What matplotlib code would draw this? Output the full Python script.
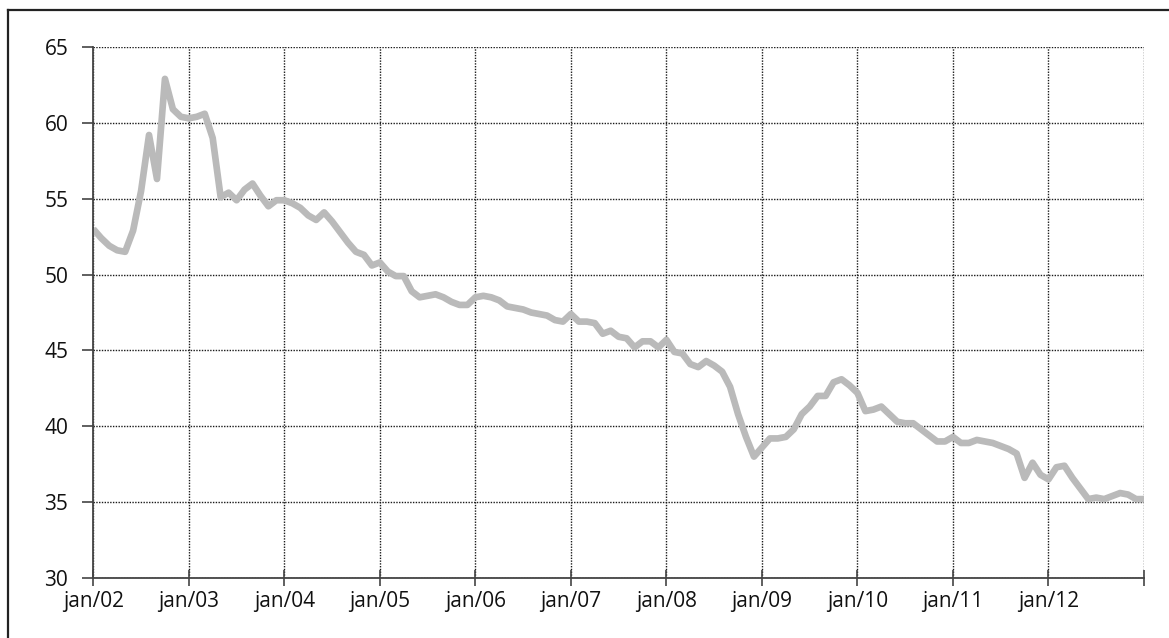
import matplotlib
matplotlib.use("Agg")
import matplotlib.pyplot as plt
from matplotlib.lines import Line2D

# Monthly values, jan/02 .. jan/13
values = [
    53.0, 52.4, 51.9, 51.6, 51.5, 52.9, 55.5, 59.2, 56.3, 62.9, 60.9, 60.4,   # 2002
    60.3, 60.4, 60.6, 59.0, 55.1, 55.4, 54.9, 55.6, 56.0, 55.2, 54.5, 54.9,   # 2003
    54.9, 54.7, 54.4, 53.9, 53.6, 54.1, 53.5, 52.8, 52.1, 51.5, 51.3, 50.6,   # 2004
    50.8, 50.2, 49.9, 49.9, 48.9, 48.5, 48.6, 48.7, 48.5, 48.2, 48.0, 48.0,   # 2005
    48.5, 48.6, 48.5, 48.3, 47.9, 47.8, 47.7, 47.5, 47.4, 47.3, 47.0, 46.9,   # 2006
    47.4, 46.9, 46.9, 46.8, 46.1, 46.3, 45.9, 45.8, 45.2, 45.6, 45.6, 45.2,   # 2007
    45.7, 44.9, 44.8, 44.1, 43.9, 44.3, 44.0, 43.6, 42.6, 40.8, 39.3, 38.0,   # 2008
    38.6, 39.2, 39.2, 39.3, 39.8, 40.8, 41.3, 42.0, 42.0, 42.9, 43.1, 42.7,   # 2009
    42.2, 41.0, 41.1, 41.3, 40.8, 40.3, 40.2, 40.2, 39.8, 39.4, 39.0, 39.0,   # 2010
    39.3, 38.9, 38.9, 39.1, 39.0, 38.9, 38.7, 38.5, 38.2, 36.6, 37.6, 36.8,   # 2011
    36.5, 37.3, 37.4, 36.6, 35.9, 35.2, 35.3, 35.2, 35.4, 35.6, 35.5, 35.2,   # 2012
    35.2,                                                                     # jan/13
]
months = list(range(len(values)))

tick_positions = [0, 12, 24, 36, 48, 60, 72, 84, 96, 108, 120, 132]
tick_labels = ["jan/02", "jan/03", "jan/04", "jan/05", "jan/06", "jan/07",
               "jan/08", "jan/09", "jan/10", "jan/11", "jan/12", ""]
y_ticks = [30, 35, 40, 45, 50, 55, 60, 65]

plt.rcParams["font.family"] = ["Open Sans", "DejaVu Sans"]

W, H = 1169, 638
fig = plt.figure(figsize=(W / 100, H / 100), dpi=100)
fig.patch.set_facecolor("white")

# outer frame (left and top edges visible)
fig.add_artist(Line2D([8 / W, 8 / W], [0, 1 - 10 / H], transform=fig.transFigure,
                      color="#222222", lw=1.6))
fig.add_artist(Line2D([8 / W, 1], [1 - 10 / H, 1 - 10 / H], transform=fig.transFigure,
                      color="#222222", lw=1.6))

ax = fig.add_axes([93.3 / W, 1 - 578 / H, (1144 - 93.3) / W, (578 - 47) / H])

ax.plot(months, values, color="#bababa", lw=4.8, solid_joinstyle="round",
        solid_capstyle="butt", zorder=3)

ax.set_xlim(0, 132)
ax.set_ylim(30, 65)
ax.set_xticks(tick_positions)
ax.set_xticklabels(tick_labels)
ax.set_yticks(y_ticks)

ax.grid(True, color="#1a1a1a", linestyle=(0, (1, 1)), lw=1.0, zorder=1)
ax.set_axisbelow(True)

for s in ["top", "right"]:
    ax.spines[s].set_visible(False)
for s in ["left", "bottom"]:
    ax.spines[s].set_color("#444444")
    ax.spines[s].set_linewidth(1.3)
    ax.spines[s].set_zorder(4)

ax.tick_params(axis="y", direction="out", length=8, width=1.2, color="#444444",
               pad=10, labelsize=15, labelcolor="#111111")
ax.tick_params(axis="x", direction="inout", length=11, width=1.2, color="#444444",
               pad=4, labelsize=15, labelcolor="#111111")

fig.savefig("out.png", dpi=100, facecolor="white")
